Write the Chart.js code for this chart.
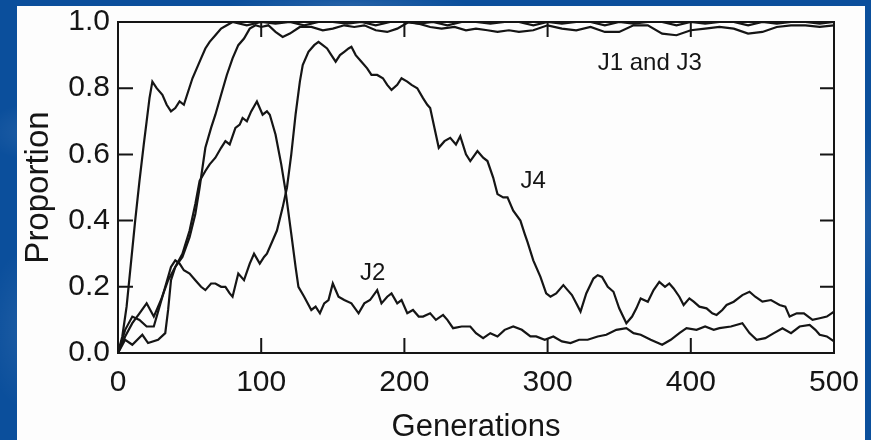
<!DOCTYPE html>
<html lang="en">
<head>
    <meta charset="UTF-8">
    <title>Proportion vs Generations</title>
    <script src="https://cdn.jsdelivr.net/npm/chart.js@4.4.0/dist/chart.umd.min.js"></script>
    <style>
        html, body { margin: 0; padding: 0; }
        body {
            width: 871px; height: 440px; overflow: hidden; position: relative;
            background-color: #0b4f9c;
            background-image:
                radial-gradient(ellipse 60px 30px at 5% 30%, rgba(255,255,255,0.10), transparent),
                radial-gradient(ellipse 40px 80px at 3% 75%, rgba(255,255,255,0.08), transparent),
                radial-gradient(ellipse 120px 10px at 40% 1%, rgba(255,255,255,0.10), transparent),
                radial-gradient(ellipse 30px 90px at 99% 50%, rgba(255,255,255,0.08), transparent);
        }
        #panel {
            position: absolute; left: 17px; top: 6px; width: 848px; height: 434px;
            background: #fdfdfd;
        }
    </style>
</head>
<body>
    <div id="panel"><canvas id="chart"></canvas></div>

    <script>
        // J1 (fast riser)
        const genJ1 = [0,3,6,9,12,15,18,20,22,24,27,31,34,37,40,43,46,49,52,55,58,61,64,68,72,76,80,
            90,100,110,120,130,140,150,160,170,180,190,200,210,220,230,240,250,260,270,280,290,300,
            310,320,330,340,350,360,370,380,390,400,410,420,430,440,450,460,470,480,490,500];
        const propJ1 = [0,0.05,0.14,0.27,0.4,0.52,0.63,0.7,0.77,0.82,0.8,0.78,0.75,0.73,0.74,0.76,0.75,0.79,0.83,0.86,0.89,0.92,0.94,0.96,0.98,0.99,1.0,
            0.99,1.0,0.995,1.0,0.99,1.0,1.0,0.995,1.0,0.99,1.0,1.0,0.995,1.0,0.99,1.0,1.0,0.995,1.0,1.0,0.99,1.0,
            0.995,1.0,1.0,0.99,1.0,0.995,1.0,1.0,0.99,1.0,0.995,1.0,1.0,0.99,1.0,0.995,1.0,1.0,0.995,1.0];

        // J3
        const genJ3 = [0,5,10,17,21,28,33,35,37,40,45,50,54,57,61,65,68,72,76,80,84,88,92,96,
            100,105,110,115,120,127,135,143,150,158,165,172,180,188,195,203,210,218,226,235,243,250,
            258,265,273,280,290,300,310,320,330,340,350,360,370,380,390,400,410,420,430,440,450,460,470,480,490,500];
        const propJ3 = [0,0.04,0.025,0.055,0.03,0.04,0.06,0.13,0.22,0.26,0.29,0.35,0.42,0.5,0.62,0.68,0.72,0.78,0.84,0.89,0.93,0.95,0.98,0.99,
            0.985,0.99,0.97,0.955,0.965,0.985,0.985,0.975,0.98,0.99,0.985,0.99,0.975,0.97,0.98,1.0,0.995,0.985,0.98,0.985,0.975,0.98,
            0.975,0.97,0.975,0.97,0.975,0.99,0.98,0.975,0.985,0.97,0.97,0.99,0.99,0.965,0.96,0.975,0.98,0.985,0.98,0.965,0.97,0.985,0.99,0.99,0.985,0.99];

        // J2
        const genJ2 = [0,5,10,15,20,25,30,35,40,45,50,54,57,61,64,68,72,75,78,82,85,87,90,93,97,101,104,106,110,114,117,121,124,126,130,
            135,138,141,144,147,150,154,158,163,168,172,176,181,184,188,191,195,198,202,206,210,213,218,222,227,230,234,240,246,250,255,
            260,265,270,276,282,288,292,298,304,310,316,322,328,335,341,348,355,360,365,372,380,386,392,397,404,410,416,420,428,436,441,
            446,452,458,464,470,476,483,487,490,495,500];
        const propJ2 = [0,0.05,0.09,0.12,0.15,0.11,0.16,0.22,0.26,0.3,0.37,0.45,0.52,0.55,0.57,0.59,0.62,0.64,0.63,0.68,0.69,0.71,0.7,0.73,0.76,0.72,0.73,0.72,0.66,0.57,0.49,0.36,0.26,0.2,0.17,
            0.13,0.14,0.12,0.15,0.16,0.21,0.17,0.16,0.15,0.12,0.15,0.16,0.19,0.15,0.17,0.18,0.15,0.16,0.12,0.13,0.11,0.11,0.12,0.1,0.115,0.1,0.075,0.08,0.08,0.06,0.045,
            0.06,0.05,0.07,0.08,0.07,0.05,0.05,0.04,0.05,0.035,0.03,0.04,0.04,0.05,0.055,0.07,0.075,0.06,0.055,0.04,0.025,0.04,0.06,0.075,0.07,0.08,0.07,0.075,0.08,0.09,0.06,
            0.04,0.045,0.06,0.075,0.06,0.08,0.085,0.07,0.055,0.05,0.035];

        // J4
        const genJ4 = [0,5,10,15,20,25,29,33,37,40,43,46,50,54,58,61,65,68,72,75,78,80,84,88,92,95,99,102,104,108,111,115,118,121,124,127,129,
            133,137,140,143,146,149,152,155,158,161,163,166,170,174,177,181,185,188,191,195,198,202,205,209,213,216,218,221,224,228,232,236,
            239,243,246,251,255,258,262,265,269,272,276,281,284,286,290,295,299,302,306,311,314,317,320,323,327,332,335,338,342,346,350,355,
            359,362,365,370,374,378,382,385,388,392,395,399,402,406,411,415,418,422,425,430,436,441,445,450,456,462,466,469,474,479,485,490,495,500];
        const propJ4 = [0,0.07,0.11,0.1,0.08,0.08,0.14,0.2,0.26,0.28,0.27,0.25,0.24,0.22,0.2,0.19,0.21,0.21,0.2,0.2,0.18,0.17,0.24,0.22,0.27,0.3,0.27,0.29,0.3,0.34,0.37,0.44,0.5,0.6,0.72,0.82,0.87,
            0.91,0.93,0.94,0.93,0.92,0.9,0.88,0.9,0.91,0.92,0.925,0.9,0.88,0.86,0.84,0.84,0.83,0.81,0.795,0.81,0.83,0.82,0.81,0.8,0.77,0.75,0.74,0.68,0.62,0.64,0.65,0.63,
            0.655,0.6,0.58,0.61,0.59,0.58,0.53,0.48,0.47,0.47,0.43,0.4,0.36,0.335,0.28,0.23,0.18,0.17,0.18,0.205,0.19,0.175,0.15,0.125,0.18,0.225,0.235,0.23,0.2,0.185,0.135,0.09,
            0.11,0.135,0.165,0.155,0.19,0.215,0.2,0.21,0.195,0.17,0.145,0.165,0.155,0.14,0.135,0.12,0.115,0.13,0.145,0.155,0.175,0.185,0.17,0.155,0.16,0.145,0.14,0.11,0.12,0.12,0.1,0.105,0.11,0.125];

        const xTicks = [0, 100, 200, 300, 400, 500];
        const yTicks = [0, 0.2, 0.4, 0.6, 0.8, 1.0];

        const notes = [
            { text: 'J1 and J3', gen: 335, prop: 0.876 },
            { text: 'J4', gen: 281, prop: 0.52 },
            { text: 'J2', gen: 169, prop: 0.24 }
        ];

        const ink = '#151515';
        const font = 'Liberation Sans, Arial, Helvetica, sans-serif';

        function toPoints(xs, ys) {
            return xs.map((x, i) => ({ x: x, y: ys[i] }));
        }

        function lineSet(label, xs, ys) {
            return {
                label: label,
                data: toPoints(xs, ys),
                borderColor: ink,
                borderWidth: 2.2,
                pointRadius: 0,
                tension: 0,
                fill: false
            };
        }

        // frame, inward ticks and the curve labels
        const framePlugin = {
            id: 'frame',
            afterDraw(chart) {
                const ctx = chart.ctx;
                const a = chart.chartArea;
                const xs = chart.scales.x, ys = chart.scales.y;
                ctx.save();
                ctx.strokeStyle = ink;
                ctx.lineWidth = 2;
                ctx.strokeRect(a.left, a.top, a.right - a.left, a.bottom - a.top);
                ctx.beginPath();
                xTicks.slice(1, -1).forEach(v => {
                    const px = xs.getPixelForValue(v);
                    ctx.moveTo(px, a.bottom); ctx.lineTo(px, a.bottom - 15);
                    ctx.moveTo(px, a.top); ctx.lineTo(px, a.top + 15);
                });
                yTicks.slice(1, -1).forEach(v => {
                    const py = ys.getPixelForValue(v);
                    ctx.moveTo(a.left, py); ctx.lineTo(a.left + 15, py);
                    ctx.moveTo(a.right, py); ctx.lineTo(a.right - 14, py);
                });
                ctx.stroke();

                ctx.fillStyle = ink;
                ctx.font = '24px ' + font;
                ctx.textBaseline = 'middle';
                ctx.textAlign = 'left';
                notes.forEach(n => {
                    ctx.fillText(n.text, xs.getPixelForValue(n.gen), ys.getPixelForValue(n.prop));
                });
                ctx.restore();
            }
        };

        new Chart(document.getElementById('chart'), {
            type: 'line',
            data: {
                datasets: [
                    lineSet('J1', genJ1, propJ1),
                    lineSet('J3', genJ3, propJ3),
                    lineSet('J2', genJ2, propJ2),
                    lineSet('J4', genJ4, propJ4)
                ]
            },
            options: {
                responsive: true,
                maintainAspectRatio: false,
                animation: false,
                layout: { padding: { top: 16, right: 31, left: 0, bottom: 0 } },
                plugins: {
                    legend: { display: false },
                    tooltip: { enabled: false }
                },
                scales: {
                    x: {
                        type: 'linear',
                        min: 0, max: 500,
                        grid: { display: false, drawTicks: false },
                        border: { display: false },
                        afterBuildTicks: s => { s.ticks = xTicks.map(v => ({ value: v })); },
                        afterFit: s => { s.height = 87; s.paddingLeft = 0; s.paddingRight = 0; },
                        ticks: {
                            color: ink,
                            padding: 12,
                            maxRotation: 0,
                            font: { family: font, size: 30 }
                        },
                        title: {
                            display: true,
                            text: 'Generations',
                            color: ink,
                            padding: 0,
                            font: { family: font, size: 31, lineHeight: 0.8 }
                        }
                    },
                    y: {
                        min: 0, max: 1,
                        grid: { display: false, drawTicks: false },
                        border: { display: false },
                        afterBuildTicks: s => { s.ticks = yTicks.map(v => ({ value: v })); },
                        afterFit: s => { s.width = 101; s.paddingTop = 0; s.paddingBottom = 0; },
                        ticks: {
                            color: ink,
                            padding: 8,
                            font: { family: font, size: 30 },
                            callback: v => v.toFixed(1)
                        },
                        title: {
                            display: true,
                            text: 'Proportion',
                            color: ink,
                            padding: { top: 2, bottom: 0 },
                            font: { family: font, size: 33, lineHeight: 1.2 }
                        }
                    }
                }
            },
            plugins: [framePlugin]
        });
    </script>
</body>
</html>
